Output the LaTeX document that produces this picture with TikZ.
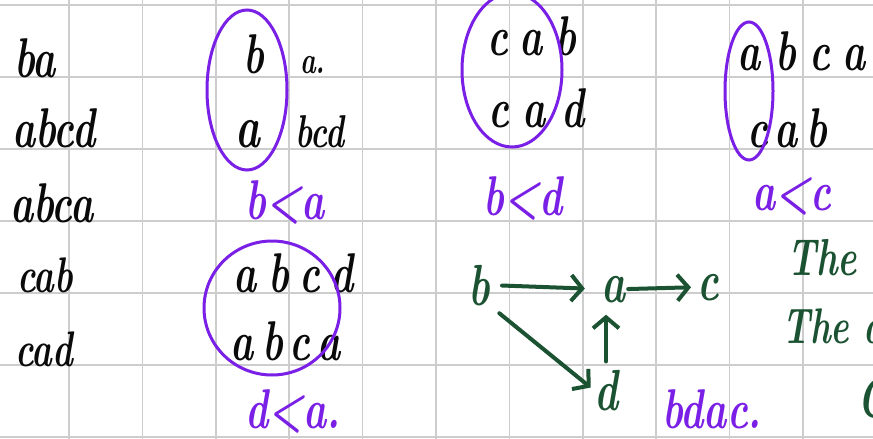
\documentclass[tikz,border=0pt]{standalone}
\usepackage{fontspec}
\newfontfamily\hand[FakeStretch=0.7]{Latin Modern Roman}
\usetikzlibrary{arrows.meta}
\definecolor{ink}{RGB}{10,10,10}
\definecolor{vio}{RGB}{122,31,230}
\definecolor{grn}{RGB}{27,82,50}
\definecolor{gridc}{RGB}{205,205,205}
\tikzset{
  gridline/.style={draw=gridc, line width=1.6pt},
  fs/.style={font=\hand\bfseries\itshape\fontsize{#1}{#1}\selectfont},
  txt/.style={inner sep=0pt, anchor=base west, text=ink, fs=56},
  ptxt/.style={txt, text=vio},
  gtxt/.style={txt, text=grn},
  sp/.style={font=\hand\bfseries\itshape\fontsize{56}{56}\selectfont\addfontfeature{LetterSpace=#1}},
  ring/.style={draw=vio, line width=3pt},
  arr/.style={draw=grn, line width=4pt, line cap=round, -{Straight Barb[length=11pt,width=26pt,line width=4pt]}},
  gnode/.style={inner sep=0pt, text=grn, fs=58}
}
\begin{document}
\begin{tikzpicture}[x=1pt,y=-1pt]
\useasboundingbox (0,0) rectangle (873,439);
\clip (0,0) rectangle (873,439);
\fill[white] (0,0) rectangle (873,439);
% grid
\foreach \i in {0,...,10} \draw[gridline] ({69+73.4*\i},0) -- ({69+73.4*\i},439);
\foreach \j in {0,...,6} \draw[gridline] (0,{5+72*\j}) -- (873,{5+72*\j});
% left column
\node[txt] (l1) at (14,77) {ba};
\node[txt] (l2) at (12,147) {abcd};
\node[txt] (l3) at (10,222) {abca};
\node[txt, fs=50] (l4) at (17,292) {cab};
\node[txt, fs=50] (l5) at (15,366) {cad};
% column 2 top
\node[txt] (c2b) at (243,73) {b};
\node[txt, fs=38] (c2a) at (300,73) {a.};
\node[txt, fs=60] (c2a2) at (235,147) {a};
\node[txt, fs=46] (c2bcd) at (295,147) {bcd};
\draw[ring] (247,90) ellipse [x radius=40, y radius=80];
\node[ptxt] (r1) at (245,219) {b<a};
% column 2 bottom
\node[txt, sp=22] (c2abcd) at (233,292) {abcd};
\node[txt, sp=16] (c2abca) at (230,360) {abca};
\draw[ring] (272,308) ellipse [x radius=68, y radius=67];
\node[ptxt] (r4) at (245,428) {d<a.};
% column 3
\node[txt, sp=24] (c3cab) at (487,55) {cab};
\node[txt, sp=28] (c3cad) at (488,127) {cad};
\draw[ring] (512,70) ellipse [x radius=50, y radius=77];
\node[ptxt] (r2) at (483,215) {b<d};
% column 4
\node[txt, sp=27] (c4abca) at (737,70) {abca};
\node[txt, sp=16] (c4cab) at (747,147) {cab};
\draw[ring] (749,91) ellipse [x radius=24, y radius=69];
\node[ptxt] (r3) at (752,210) {a<c};
% graph
\node[gnode, anchor=base] (gb) at (479,305) {b};
\node[gnode, anchor=base] (ga) at (613,302) {a};
\node[gnode, anchor=base] (gc) at (708,300) {c};
\node[gnode, anchor=base] (gd) at (606,410) {d};
\draw[arr, shorten <=12pt, shorten >=16pt] (gb.east) -- (ga.west);
\draw[arr, shorten <=3pt, shorten >=6pt] (ga.east) -- (gc.west);
\draw[arr, shorten <=8pt, shorten >=12pt] (gd.north) -- (gd.north |- ga.south);
\draw[arr, shorten <=12pt, shorten >=4pt] (gb.south east) -- (gd.west);
\node[ptxt] (ans) at (662,428) {bdac.};
\node[gtxt, fs=52] (t1) at (787,275) {The};
\node[gtxt, fs=50] (t2) at (782,343) {The d};
\node[gtxt] (t3) at (857,417) {C};
\end{tikzpicture}
\end{document}
